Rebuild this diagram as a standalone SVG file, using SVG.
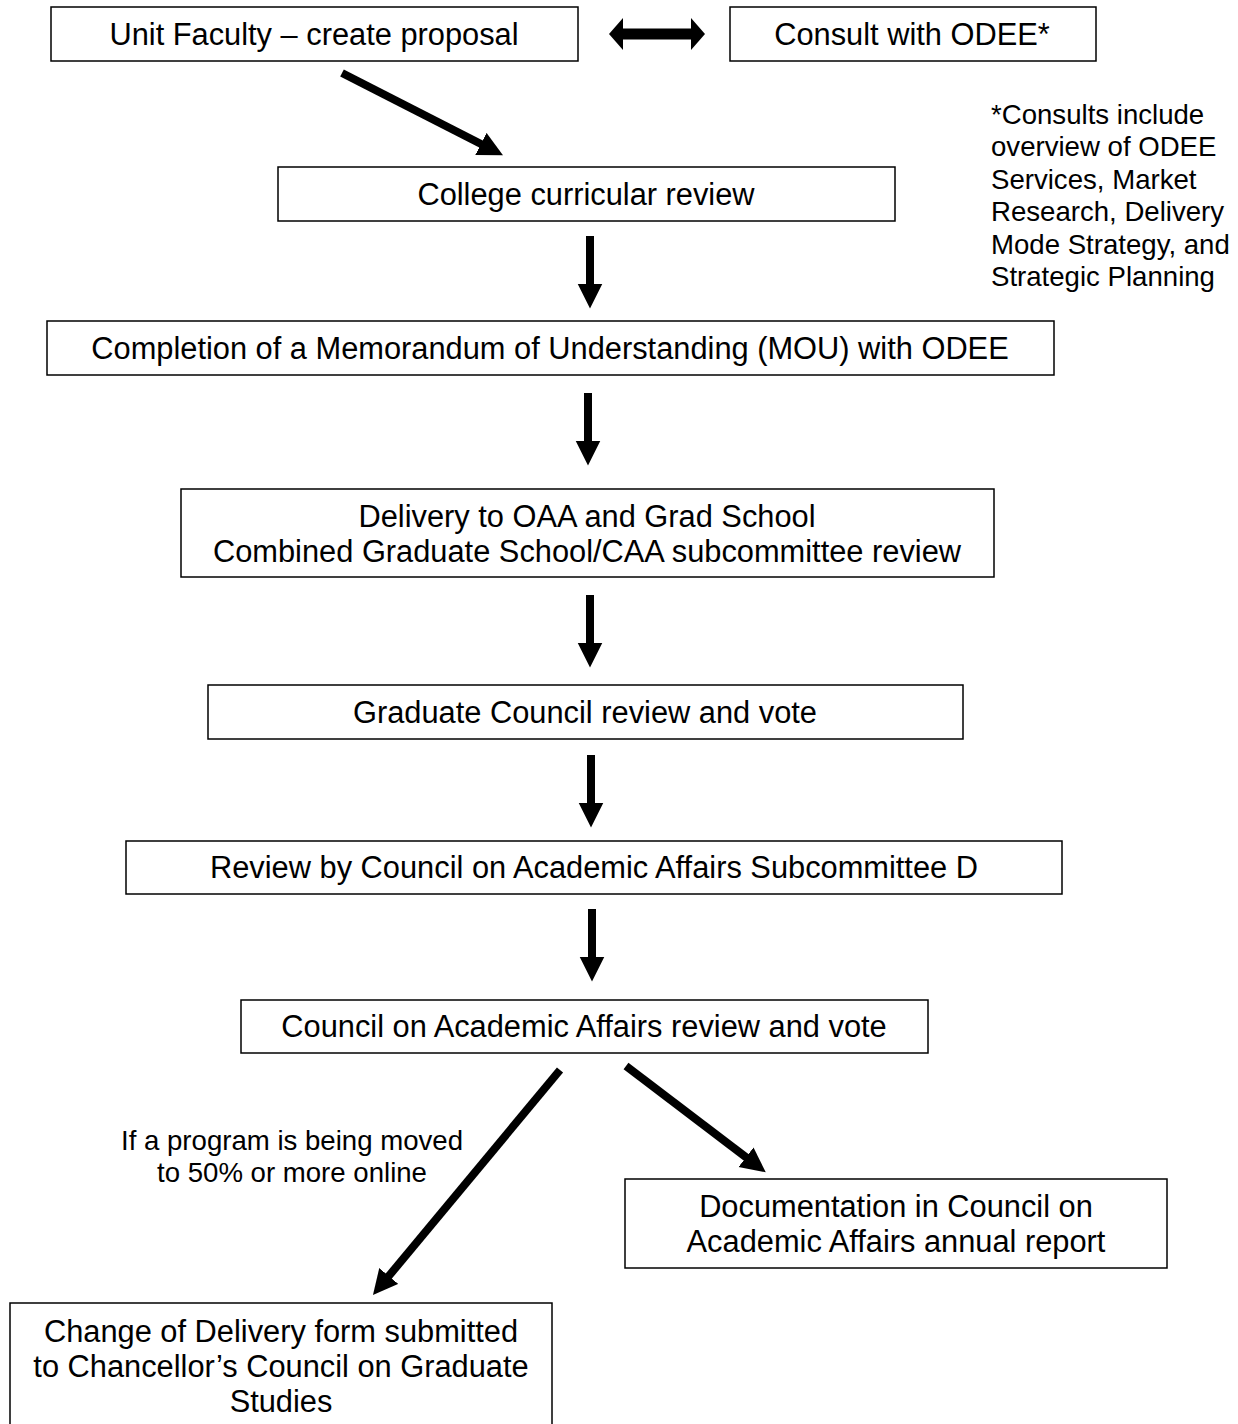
<svg xmlns="http://www.w3.org/2000/svg" width="1238" height="1424" viewBox="0 0 1238 1424">
<style>
.box{fill:#fff;stroke:#000;stroke-width:1.5}
.t{font-family:"Liberation Sans",Arial,sans-serif;font-size:30.8px;fill:#000;text-anchor:middle}
.n{font-family:"Liberation Sans",Arial,sans-serif;font-size:27.6px;fill:#000}
.lbl{font-family:"Liberation Sans",Arial,sans-serif;font-size:27.6px;fill:#000;text-anchor:middle}
.c{stroke:#000;stroke-width:8;fill:none;marker-end:url(#ah)}
</style>
<defs>
<marker id="ah" viewBox="0 0 10 10" refX="0.5" refY="5" markerWidth="3.1" markerHeight="3.2" orient="auto" markerUnits="strokeWidth">
<path d="M0,0 L10,5 L0,10 z" fill="#000"/>
</marker>
</defs>
<rect width="1238" height="1424" fill="#fff"/>
<g id="connectors">
<polygon points="609,34 623,18 623,28.5 691,28.5 691,18 705,34 691,50 691,39.5 623,39.5 623,50" fill="#000"/>
<line class="c" x1="342" y1="73" x2="482" y2="144.5"/>
<line class="c" x1="590" y1="236" x2="590" y2="285"/>
<line class="c" x1="588" y1="393" x2="588" y2="442"/>
<line class="c" x1="590" y1="595" x2="590" y2="644"/>
<line class="c" x1="591" y1="755" x2="591" y2="804"/>
<line class="c" x1="592" y1="909" x2="592" y2="958"/>
<line class="c" x1="560" y1="1070" x2="388" y2="1277"/>
<line class="c" x1="626" y1="1066" x2="747" y2="1158"/>
<text class="lbl" x="292" y="1150">If a program is being moved</text>
<text class="lbl" x="292" y="1182">to 50% or more online</text>
</g>
<g id="n1"><rect class="box" x="51" y="7" width="527" height="54"/><text class="t" x="314" y="45">Unit Faculty – create proposal</text></g>
<g id="n2"><rect class="box" x="730" y="7" width="366" height="54"/><text class="t" x="912" y="45">Consult with ODEE*</text></g>
<g id="note"><text class="n" x="991" y="124">*Consults include</text><text class="n" x="991" y="156">overview of ODEE</text><text class="n" x="991" y="189">Services, Market</text><text class="n" x="991" y="221">Research, Delivery</text><text class="n" x="991" y="254">Mode Strategy, and</text><text class="n" x="991" y="286">Strategic Planning</text></g>
<g id="n3"><rect class="box" x="278" y="167" width="617" height="54"/><text class="t" x="586" y="205">College curricular review</text></g>
<g id="n4"><rect class="box" x="47" y="321" width="1007" height="54"/><text class="t" x="550" y="359">Completion of a Memorandum of Understanding (MOU) with ODEE</text></g>
<g id="n5"><rect class="box" x="181" y="489" width="813" height="88"/><text class="t" x="587" y="527">Delivery to OAA and Grad School</text><text class="t" x="587" y="562">Combined Graduate School/CAA subcommittee review</text></g>
<g id="n6"><rect class="box" x="208" y="685" width="755" height="54"/><text class="t" x="585" y="723">Graduate Council review and vote</text></g>
<g id="n7"><rect class="box" x="126" y="841" width="936" height="53"/><text class="t" x="594" y="878">Review by Council on Academic Affairs Subcommittee D</text></g>
<g id="n8"><rect class="box" x="241" y="1000" width="687" height="53"/><text class="t" x="584" y="1037">Council on Academic Affairs review and vote</text></g>
<g id="n9"><rect class="box" x="625" y="1179" width="542" height="89"/><text class="t" x="896" y="1217">Documentation in Council on</text><text class="t" x="896" y="1252">Academic Affairs annual report</text></g>
<g id="n10"><rect class="box" x="10" y="1303" width="542" height="140"/><text class="t" x="281" y="1342">Change of Delivery form submitted</text><text class="t" x="281" y="1377">to Chancellor’s Council on Graduate</text><text class="t" x="281" y="1412">Studies</text></g>
</svg>
